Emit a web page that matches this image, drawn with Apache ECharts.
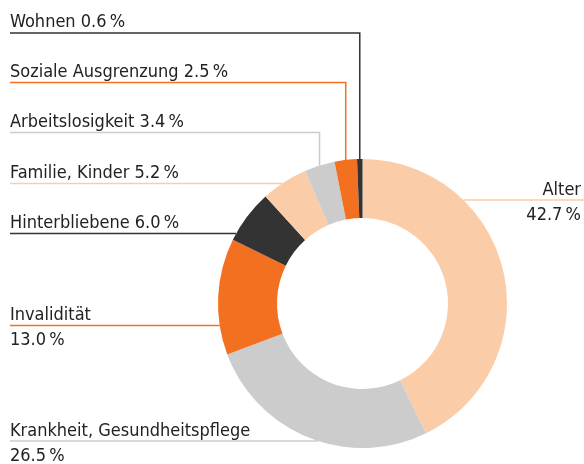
<!DOCTYPE html>
<html>
<head>
<meta charset="utf-8">
<script src="https://cdn.jsdelivr.net/npm/echarts@6/dist/echarts.min.js"></script>
<style>
html, body { margin: 0; padding: 0; background: #fff; }
#main { width: 584px; height: 464px; }
</style>
</head>
<body>
<div id="main"></div>
<script>
// data, clockwise from the top
var categories = ['Alter', 'Krankheit, Gesundheitspflege', 'Invalidität', 'Hinterbliebene',
    'Familie, Kinder', 'Arbeitslosigkeit', 'Soziale Ausgrenzung', 'Wohnen'];
var shares = [42.7, 26.5, 13.0, 6.0, 5.2, 3.4, 2.5, 0.6];
var sliceColors = ['#FBCCA8', '#CCCCCC', '#F37021', '#333333', '#FBCCA8', '#CCCCCC', '#F37021', '#333333'];

// geometry of the ring
var cx = 362.5, cy = 303.5, r0 = 85.5, r1 = 144.5;

// where each label sits (the y of its underline) and how the leader runs
var labelSpots = [
    {lineY: 200, right: true, twoLines: true},
    {lineY: 441, twoLines: true},
    {lineY: 325.5, twoLines: true},
    {lineY: 233.5},
    {lineY: 183.5},
    {lineY: 132.5, elbow: true},
    {lineY: 82.5, elbow: true},
    {lineY: 33, elbow: true}
];

var total = shares.reduce(function (a, b) { return a + b; }, 0);
var midAngles = [];
var cum = 0;
shares.forEach(function (v) {
    midAngles.push((cum + v / 2) / total * Math.PI * 2);
    cum += v;
});

function pct(v) {
    return v.toFixed(1) + '\u2009%';
}

var chart = echarts.init(document.getElementById('main'), null, {renderer: 'canvas'});

chart.setOption({
    animation: false,
    backgroundColor: '#fff',
    series: [{
        type: 'pie',
        center: [cx, cy],
        radius: [r0, r1],
        startAngle: 90,
        clockwise: true,
        avoidLabelOverlap: false,
        silent: true,
        data: categories.map(function (name, i) {
            return {name: name, value: shares[i], itemStyle: {color: sliceColors[i]}};
        }),
        label: {
            show: true,
            position: 'outside',
            color: '#222',
            fontFamily: "'DejaVu Sans Condensed', 'DejaVu Sans', sans-serif",
            fontSize: 18,
            lineHeight: 25,
            formatter: function (p) {
                var s = labelSpots[p.dataIndex];
                return s.twoLines ? p.name + '\n' + pct(p.value) : p.name + ' ' + pct(p.value);
            }
        },
        labelLine: {
            show: true,
            smooth: false,
            lineStyle: {width: 1.5}
        },
        labelLayout: function (params) {
            var i = params.dataIndex;
            var s = labelSpots[i];
            var a = midAngles[i];
            var pts;
            if (s.elbow) {
                var px = cx + r1 * Math.sin(a);
                var py = cy - r1 * Math.cos(a);
                pts = [[px, py], [px, s.lineY], [10, s.lineY]];
            } else {
                var dy = cy - s.lineY;
                var dx = Math.sqrt(r1 * r1 - dy * dy);
                if (s.right) {
                    pts = [[cx + dx, s.lineY], [cx + dx, s.lineY], [584, s.lineY]];
                } else {
                    pts = [[cx - dx, s.lineY], [cx - dx, s.lineY], [10, s.lineY]];
                }
            }
            return {
                x: s.right ? 581 : 10,
                y: s.twoLines ? s.lineY + 2.5 : s.lineY - 10.5,
                align: s.right ? 'right' : 'left',
                verticalAlign: 'middle',
                labelLinePoints: pts
            };
        }
    }]
});
</script>
</body>
</html>
